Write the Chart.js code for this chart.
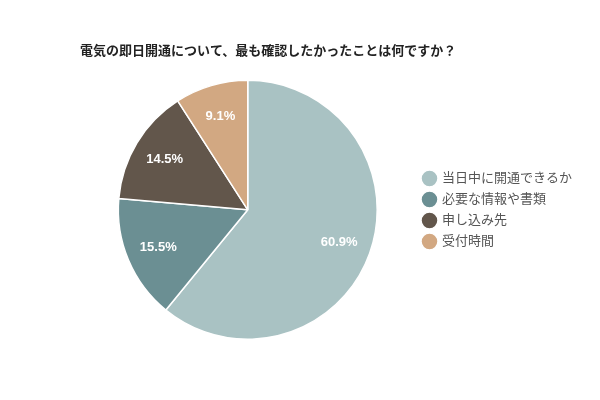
<!DOCTYPE html>
<html>
<head>
<meta charset="utf-8">
<script src="https://cdn.jsdelivr.net/npm/chart.js@4"></script>
<style>
  html, body { margin: 0; padding: 0; background: #fff; }
  #wrap { width: 600px; height: 400px; }
</style>
</head>
<body>
<div id="wrap"><canvas id="pie"></canvas></div>
<script>
const TITLE   = '電気の即日開通について、最も確認したかったことは何ですか？';
const labels  = ['当日中に開通できるか', '必要な情報や書類', '申し込み先', '受付時間'];
const values  = [60.9, 15.5, 14.5, 9.1];
const colours = ['#a9c2c3', '#6b8f93', '#62564b', '#d2a882'];

const FONT = '"Liberation Sans", Arial, "Noto Sans CJK JP", sans-serif';

// white percentage labels inside each slice
const sliceLabels = {
  id: 'sliceLabels',
  afterDatasetsDraw(chart) {
    const ctx = chart.ctx;
    const meta = chart.getDatasetMeta(0);
    ctx.save();
    ctx.font = 'bold 13px ' + FONT;
    ctx.fillStyle = '#fff';
    ctx.textAlign = 'center';
    ctx.textBaseline = 'middle';
    meta.data.forEach((arc, i) => {
      const p = arc.getProps(['x', 'y', 'startAngle', 'endAngle', 'outerRadius'], true);
      const mid = (p.startAngle + p.endAngle) / 2;
      const r = p.outerRadius * 0.75;
      ctx.fillText(values[i].toFixed(1) + '%', p.x + Math.cos(mid) * r, p.y + Math.sin(mid) * r);
    });
    ctx.restore();
  }
};

new Chart(document.getElementById('pie'), {
  type: 'pie',
  data: {
    labels,
    datasets: [{ data: values, backgroundColor: colours, borderColor: '#fff', borderWidth: 1.5 }]
  },
  options: {
    responsive: true, maintainAspectRatio: false, animation: false,
    layout: { padding: { left: 80, top: 44, bottom: 60, right: 18 } },
    plugins: {
      title: {
        display: true, text: TITLE, align: 'start', color: '#222',
        font: { family: FONT, size: 13, weight: 'bold' },
        padding: { top: 0, bottom: 20 }
      },
      legend: {
        position: 'right',
        // empty title only pushes the items down a bit
        title: { display: true, text: '', font: { size: 10 }, padding: { top: 24, bottom: 0 } },
        labels: {
          usePointStyle: true, pointStyle: 'circle', boxWidth: 12, boxHeight: 12,
          color: '#555', font: { family: FONT, size: 13 }, padding: 8
        }
      },
      tooltip: { enabled: false }
    }
  },
  plugins: [sliceLabels]
});
</script>
</body>
</html>
